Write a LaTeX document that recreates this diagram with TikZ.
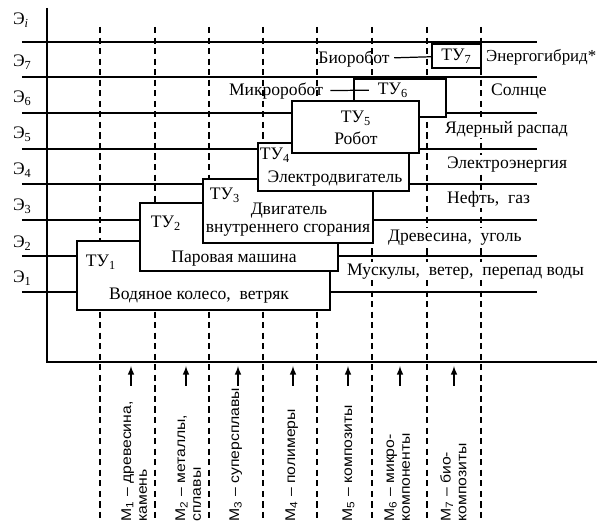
\documentclass[tikz,border=0pt]{standalone}
\usepackage{fontspec}
\setmainfont{Liberation Serif}
\newfontfamily\sansru[FakeStretch=1.12]{Liberation Sans}
\begin{document}
\begin{tikzpicture}[x=0.02cm, y=-0.02cm,
  level/.style={line width=.7pt},
  grid/.style={line width=.6pt, dash pattern=on 3.5pt off 2.5pt},
  tubox/.style={draw, fill=white, line width=.9pt},
  txt/.style={inner sep=1pt, font=\fontsize{10}{12}\selectfont, text height=1.5ex, text depth=.3ex},
  src/.style={txt, fill=white, anchor=west},
  mat/.style={rotate=90, anchor=north west, align=left, inner sep=0pt, font=\sansru\fontsize{8}{9}\selectfont}]

\useasboundingbox (0,0) rectangle (600,527);

\draw[line width=.9pt] (47,8) to (47,362) to (597,362);

\foreach \y in {42,77,113,149,184,220,256,292}
  \draw[level] (22,\y) to (537,\y);
\foreach \x in {100,155,209,263,317,372,427,481}
  \draw[grid] (\x,27) to (\x,522);

\node[txt, anchor=west] (ei) at (11,20) {Э\textsubscript{\itshape i}};
\node[txt, anchor=west] (e7) at (11,62) {Э\textsubscript{7}};
\node[txt, anchor=west] (e6) at (11,98) {Э\textsubscript{6}};
\node[txt, anchor=west] (e5) at (11,134) {Э\textsubscript{5}};
\node[txt, anchor=west] (e4) at (11,170) {Э\textsubscript{4}};
\node[txt, anchor=west] (e3) at (11,206) {Э\textsubscript{3}};
\node[txt, anchor=west] (e2) at (11,243) {Э\textsubscript{2}};
\node[txt, anchor=west] (e1) at (11,278) {Э\textsubscript{1}};

\draw[tubox] (77,241) rectangle (330,310);
\draw[tubox] (140,203) rectangle (338,271);
\draw[tubox] (203,179) rectangle (373,243);
\draw[tubox] (258,143) rectangle (409,191);
\draw[tubox] (354,79) rectangle (446,117);
\draw[tubox] (292,101) rectangle (419,153);

\node[txt] (tu1) at (101,262) {ТУ\textsubscript{1}};
\node[txt] (t1) at (199,295) {Водяное колесо,\ \ ветряк};
\node[txt] (tu2) at (166,223) {ТУ\textsubscript{2}};
\node[txt] (t2) at (234,258) {Паровая машина};
\node[txt] (tu3) at (225,195) {ТУ\textsubscript{3}};
\node[txt] (t3a) at (289,210) {Двигатель};
\node[txt] (t3b) at (288,228) {внутреннего сгорания};
\node[txt] (tu4) at (275,155) {ТУ\textsubscript{4}};
\node[txt] (t4) at (335,178) {Электродвигатель};
\node[txt] (tu5) at (356,118) {ТУ\textsubscript{5}};
\node[txt] (t5) at (356,140) {Робот};
\node[txt] (tu6) at (393,90) {ТУ\textsubscript{6}};
\node[txt, draw, fill=white, line width=.9pt, minimum width=0.98cm, minimum height=0.48cm] (tu7) at (456.5,56) {ТУ\textsubscript{7}};

\node[txt] (mikro) at (276,91) {Микроробот};
\node[txt] (bio) at (354,59) {Биоробот};
\draw[line width=.7pt, shorten <=3pt, shorten >=4pt] (mikro) to (tu6);
\draw[line width=.7pt, shorten <=1.5pt] (bio) to (tu7);

\node[src, inner sep=.5pt, font=\fontsize{9.6}{12}\selectfont] (s7) at (485,57) {Энергогибрид*};
\node[src] (s6) at (489,91) {Солнце};
\node[src] (s5) at (443,129) {Ядерный распад};
\node[src] (s4) at (445,164) {Электроэнергия};
\node[src] (s3) at (445,199) {Нефть,\ \ газ};
\node[src] (s2) at (386,237) {Древесина,\ \ уголь};
\node[src] (s1) at (345,271) {Мускулы,\ \ ветер,\ \ перепад воды};

\foreach \x in {131,186,238,293,348,400,454}
  \draw[-latex, line width=.7pt] (\x,386) to (\x,366);

\node[mat] (m1) at (121,522) {М\textsubscript{1} – древесина,\\камень};
\node[mat] (m2) at (175,522) {М\textsubscript{2} – металлы,\\сплавы};
\node[mat] (m3) at (229,522) {М\textsubscript{3} – суперсплавы};
\node[mat] (m4) at (285,522) {М\textsubscript{4} – полимеры};
\node[mat] (m5) at (342,522) {М\textsubscript{5} – композиты};
\node[mat] (m6) at (384,522) {М\textsubscript{6} – микро-\\компоненты};
\node[mat] (m7) at (440,522) {М\textsubscript{7} – био-\\композиты};
\end{tikzpicture}
\end{document}
